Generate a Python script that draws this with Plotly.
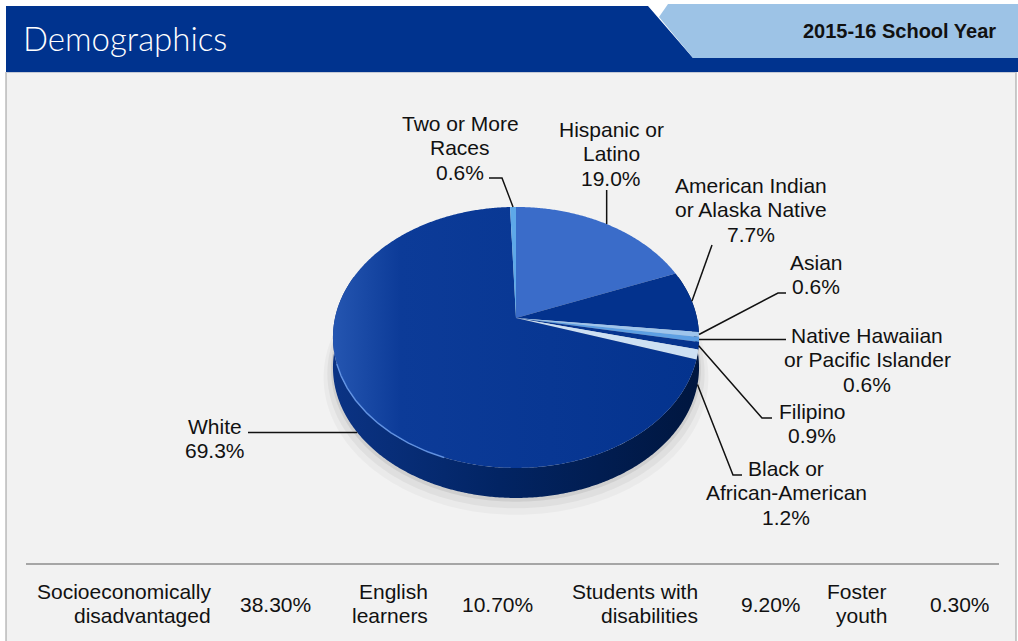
import math
import plotly.graph_objects as go

# ---------------- data ----------------
categories = ["Hispanic or\nLatino", "American Indian\nor Alaska Native", "Asian",
              "Native Hawaiian\nor Pacific Islander", "Filipino",
              "Black or\nAfrican-American", "White", "Two or More\nRaces"]
values = [19.0, 7.7, 0.6, 0.6, 0.9, 1.2, 69.3, 0.6]
slice_colors = ["#3a6cc9", "#03328d", "#9ec5ec", "#5d9fe3", "#06348f",
                "#cde0f3", "#05338e", "#5ea8e8"]

stat_labels = ["Socioeconomically\ndisadvantaged", "English\nlearners",
               "Students with\ndisabilities", "Foster\nyouth"]
stat_values = [38.30, 10.70, 9.20, 0.30]

title_text = "Demographics"
year_text = "2015-16 School Year"

# ---------------- layout constants ----------------
W, H = 1018, 641
VX, VY = 516, 318          # pie vertex on screen
RX, RY, K = 181, 127.6, 0.149
DEPTH = 30
FONT = "Liberation Sans"
FS = 21
LS = 24.5

# label placement: (center x, first line y, knee, end, from_side)
label_layout = [
    (611, 129, None, ("same", 190), False),
    (751, 185, None, (712, 245), False),
    (816, 262, (778, 293), (786, 293), False),
    (867, 335, None, (786, "same"), False),
    (812, 411, (762, 418), (772, 418), False),
    (786, 468, (733, 475), (742, 475), True),
    (215, 426, None, (248, "same"), True),
    (460, 123, (502, 178), (489, 178), False),
]
stat_label_right = [213, 430, 700, 889]
stat_value_x = [275, 497, 771, 960]


def proj(theta_deg, r=1.0):
    t = math.radians(theta_deg)
    X, Y = r * math.sin(t), r * math.cos(t)
    d = 1 + K * Y
    return VX + RX * X / d, VY - RY * Y / d


def arc(a0, a1, r=1.0, dy=0.0, n=None):
    n = n or max(4, int(abs(a1 - a0) * 2))
    xs, ys = [], []
    for i in range(n + 1):
        a = a0 + (a1 - a0) * i / n
        x, y = proj(a, r)
        xs.append(x)
        ys.append(y + dy)
    return xs, ys


fig = go.Figure()

# shadow under the pie
for r, dy, op in [(1.05, DEPTH + 8, 0.03), (1.03, DEPTH + 5, 0.045), (1.01, DEPTH + 2, 0.07)]:
    xs, ys = arc(0, 360, r=r, dy=dy, n=360)
    fig.add_trace(go.Scatter(x=xs, y=ys, fill="toself", mode="none",
                             fillcolor=f"rgba(0,0,0,{op})", hoverinfo="skip", showlegend=False))

# side wall
xa, ya = arc(70, 290, n=440)
xb, yb = arc(290, 70, dy=DEPTH, n=440)
fig.add_trace(go.Scatter(
    x=xa + xb, y=ya + yb, fill="toself", mode="none",
    fillgradient=dict(type="horizontal", start=335, stop=700,
                      colorscale=[[0, "#0b3384"], [0.45, "#022463"], [1, "#00163f"]]),
    hoverinfo="skip", showlegend=False))

# top-face slices
total = sum(values)
cum = 0.0
mids = []
for v, c in zip(values, slice_colors):
    a0 = cum / total * 360
    a1 = (cum + v) / total * 360
    cum += v
    mids.append((a0 + a1) / 2)
    xs, ys = arc(a0, a1)
    xs = [VX] + xs + [VX]
    ys = [VY] + ys + [VY]
    kw = {}
    if v > 50:
        kw["fillgradient"] = dict(type="horizontal", start=335, stop=700,
                                  colorscale=[[0, "#2455b0"], [0.18, "#0c3b98"], [1, "#04338e"]])
    else:
        kw["fillcolor"] = c
    fig.add_trace(go.Scatter(x=xs, y=ys, fill="toself", mode="none",
                             hoverinfo="skip", showlegend=False, **kw))

# rim highlight
xs, ys = arc(200, 250)
fig.add_trace(go.Scatter(x=xs, y=ys, mode="lines", line=dict(color="rgba(110,160,240,0.8)", width=1.5),
                         hoverinfo="skip", showlegend=False))

annotations = []
# labels and leader lines
for name, v, mid, lay in zip(categories, values, mids, label_layout):
    cx, y0, knee, end, side = lay
    lines = name.split("\n") + [f"{v:.1f}%"]
    for i, t in enumerate(lines):
        annotations.append(dict(x=cx, y=y0 + i * LS, text=t, showarrow=False,
                                xanchor="center", yanchor="middle",
                                font=dict(family=FONT, size=FS, color="#111111")))
    sx, sy = proj(mid)
    if side:
        sy += DEPTH
    ex = sx if end[0] == "same" else end[0]
    ey = sy if end[1] == "same" else end[1]
    px, py = [sx], [sy]
    if knee:
        px.append(knee[0]); py.append(knee[1])
    px.append(ex); py.append(ey)
    fig.add_trace(go.Scatter(x=px, y=py, mode="lines", line=dict(color="#111111", width=1.5),
                             hoverinfo="skip", showlegend=False))

# bottom stats row
for lab, val, rx, vx in zip(stat_labels, stat_values, stat_label_right, stat_value_x):
    for i, t in enumerate(lab.split("\n")):
        annotations.append(dict(x=rx, y=591 + i * 24, text=t, showarrow=False,
                                xanchor="right", yanchor="middle",
                                font=dict(family=FONT, size=FS, color="#111111")))
    annotations.append(dict(x=vx, y=604, text=f"{val:.2f}%", showarrow=False,
                            xanchor="center", yanchor="middle",
                            font=dict(family=FONT, size=FS, color="#111111")))

# header texts
annotations.append(dict(x=21, y=38, text=title_text, showarrow=False, xanchor="left", yanchor="middle",
                        font=dict(family="Lato", size=33, color="white", weight=300)))
annotations.append(dict(x=998, y=31, text=year_text, showarrow=False, xanchor="right", yanchor="middle",
                        font=dict(family=FONT, size=20, color="#111111", weight="bold")))

shapes = [
    dict(type="rect", x0=6, y0=72, x1=1016, y1=H + 2, fillcolor="#f2f2f2",
         line=dict(color="#9a9a9a", width=1), layer="below"),
    dict(type="path", path="M6,6 L648,6 L693,58 L1018,58 L1018,72 L6,72 Z",
         fillcolor="#00338e", line=dict(width=0), layer="below"),
    dict(type="path", path="M659,17 L668,4 L1018,4 L1018,58 L693,58 Z",
         fillcolor="#9dc3e6", line=dict(width=0), layer="below"),
    dict(type="line", x0=6, y0=72.5, x1=1016, y1=72.5, line=dict(color="#c5cad6", width=1), layer="below"),
    dict(type="line", x0=26, y0=564, x1=999, y1=564, line=dict(color="#8c8c8c", width=1.5), layer="below"),
]

fig.update_layout(
    width=W, height=H, margin=dict(l=0, r=0, t=0, b=0),
    paper_bgcolor="white", plot_bgcolor="rgba(0,0,0,0)",
    xaxis=dict(range=[0, W], visible=False, fixedrange=True),
    yaxis=dict(range=[H, 0], visible=False, fixedrange=True),
    annotations=annotations, shapes=shapes, showlegend=False,
)

fig.write_html("out.html")
